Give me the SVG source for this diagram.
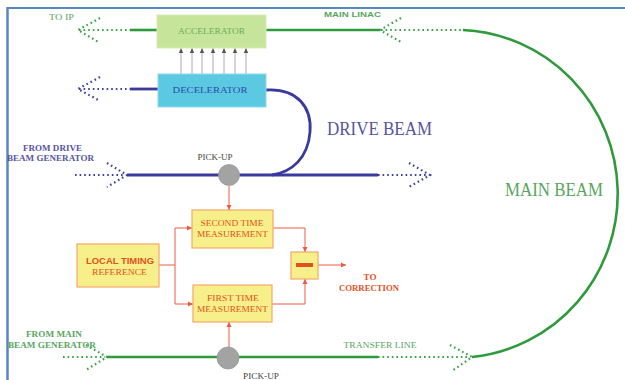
<svg xmlns="http://www.w3.org/2000/svg" width="625" height="380" viewBox="0 0 625 380">
<defs>
<style>
.gl{stroke:#2f9a3c;stroke-width:2.6;fill:none}
.gd{stroke:#3aa048;stroke-width:2.2;fill:none;stroke-dasharray:1.6 3}
.bl{stroke:#3a3a9e;stroke-width:2.8;fill:none}
.bd{stroke:#3f3fa2;stroke-width:2.2;fill:none;stroke-dasharray:1.6 3}
.rl{stroke:#ec5a44;stroke-width:1;fill:none}
.ga{stroke:#b0aaa8;stroke-width:1;fill:none}
.box{fill:#f7f08a;stroke:#f2a86a;stroke-width:1.2}
.serif{font-family:"Liberation Serif","DejaVu Serif",serif}
.sans{font-family:"Liberation Sans","DejaVu Sans",sans-serif}
.rt{fill:#e2501e;font-size:9px;text-anchor:middle}
.gt{fill:#5aa55e;text-anchor:middle}
.bt{fill:#55559e;text-anchor:middle}
</style>
<marker id="ra" markerWidth="6" markerHeight="6" refX="5" refY="3" orient="auto" markerUnits="userSpaceOnUse">
<path d="M0,0.5 L5,3 L0,5.5 Z" fill="#ec5a44"/>
</marker>
<marker id="ka" markerWidth="6" markerHeight="6" refX="5" refY="3" orient="auto" markerUnits="userSpaceOnUse">
<path d="M0,0.8 L5,3 L0,5.2 Z" fill="#555"/>
</marker>
</defs>
<rect x="0" y="0" width="625" height="380" fill="#ffffff"/>
<g id="frame">
<line x1="7" y1="8" x2="625" y2="8" stroke="#5b87c0" stroke-width="2"/>
<line x1="7.5" y1="7" x2="7.5" y2="380" stroke="#5b87c0" stroke-width="2.5"/>
</g>
<g id="connectors">
<line class="gl" x1="130" y1="30" x2="157" y2="30"/>
<line class="gd" x1="79" y1="30" x2="130" y2="30"/>
<path class="gd" d="M100,18 L78,30 L100,43"/>
<line class="gl" x1="266" y1="30" x2="380" y2="30"/>
<line class="gd" x1="381" y1="30" x2="463" y2="30"/>
<path class="gd" d="M401,18 L380,30 L401,42"/>
<path class="gl" d="M463,30 A162 164 0 0 1 472,357"/>
<line class="bl" x1="130" y1="89" x2="158" y2="89"/>
<line class="bd" x1="79" y1="89" x2="130" y2="89"/>
<path class="bd" d="M100,77 L78,89 L100,101"/>
<path class="bl" d="M266,90 C298,88 312,108 310,132 C308,158 292,172 272,175"/>
<line class="bd" x1="75" y1="175" x2="125" y2="175"/>
<path class="bd" d="M107,163 L127,175 L107,187"/>
<line class="bl" x1="127" y1="175" x2="378" y2="175"/>
<line class="bd" x1="378" y1="175" x2="428" y2="175"/>
<path class="bd" d="M409,163 L430,175 L409,187"/>
<line class="gd" x1="63" y1="357" x2="105" y2="357"/>
<path class="gd" d="M86,345 L107,357 L86,370"/>
<line class="gl" x1="107" y1="357" x2="378" y2="357"/>
<line class="gd" x1="378" y1="357" x2="470" y2="357"/>
<path class="gd" d="M450,345 L472,357 L452,371"/>
<line class="ga" x1="181" y1="74" x2="181" y2="48" marker-end="url(#ka)"/>
<line class="ga" x1="192" y1="74" x2="192" y2="48" marker-end="url(#ka)"/>
<line class="ga" x1="202" y1="74" x2="202" y2="48" marker-end="url(#ka)"/>
<line class="ga" x1="213" y1="74" x2="213" y2="48" marker-end="url(#ka)"/>
<line class="ga" x1="224" y1="74" x2="224" y2="48" marker-end="url(#ka)"/>
<line class="ga" x1="235" y1="74" x2="235" y2="48" marker-end="url(#ka)"/>
<line class="ga" x1="246" y1="74" x2="246" y2="48" marker-end="url(#ka)"/>
<line class="rl" x1="229" y1="186" x2="229" y2="210" marker-end="url(#ra)"/>
<line class="rl" x1="229" y1="347" x2="229" y2="322" marker-end="url(#ra)"/>
<path class="rl" d="M159,265 L175,265"/>
<path class="rl" d="M175,228 L175,304"/>
<line class="rl" x1="175" y1="228" x2="192" y2="228" marker-end="url(#ra)"/>
<line class="rl" x1="175" y1="304" x2="193" y2="304" marker-end="url(#ra)"/>
<path class="rl" d="M273,228 L305,228 L305,252" marker-end="url(#ra)"/>
<path class="rl" d="M272,304 L305,304 L305,279" marker-end="url(#ra)"/>
<line class="rl" x1="318" y1="265" x2="346" y2="265" marker-end="url(#ra)"/>
</g>
<g id="accelerator">
<rect x="157" y="15" width="109" height="33" fill="#c6e59a" stroke="#d6ecb4" stroke-width="1"/>
<text class="serif" x="211.5" y="34" font-size="9" fill="#6aae5a" text-anchor="middle" textLength="67" lengthAdjust="spacingAndGlyphs">ACCELERATOR</text>
</g>
<g id="decelerator">
<rect x="158" y="74" width="108" height="33" fill="#5cc9e2" stroke="#8fdaea" stroke-width="1"/>
<text class="serif" x="210" y="93" font-size="9" fill="#2a4aa8" text-anchor="middle" textLength="75" lengthAdjust="spacingAndGlyphs">DECELERATOR</text>
</g>
<g id="pickup-top">
<circle cx="229" cy="175" r="10.5" fill="#a3a3a3" stroke="#999" stroke-width="0.8"/>
<text class="serif" x="215" y="160" font-size="8.5" fill="#444" text-anchor="middle" textLength="35" lengthAdjust="spacingAndGlyphs">PICK-UP</text>
</g>
<g id="pickup-bottom">
<circle cx="228" cy="358" r="11" fill="#a3a3a3" stroke="#999" stroke-width="0.8"/>
<text class="serif" x="261" y="379" font-size="8.5" fill="#444" text-anchor="middle" textLength="36" lengthAdjust="spacingAndGlyphs">PICK-UP</text>
</g>
<g id="second-time">
<rect class="box" x="192" y="210" width="81" height="38"/>
<text class="serif rt" x="232" y="226" textLength="63" lengthAdjust="spacingAndGlyphs">SECOND TIME</text>
<text class="serif rt" x="232.5" y="237" textLength="71" lengthAdjust="spacingAndGlyphs">MEASUREMENT</text>
</g>
<g id="first-time">
<rect class="box" x="193" y="285" width="79" height="37"/>
<text class="serif rt" x="233" y="301" textLength="52" lengthAdjust="spacingAndGlyphs">FIRST TIME</text>
<text class="serif rt" x="232.5" y="312" textLength="71" lengthAdjust="spacingAndGlyphs">MEASUREMENT</text>
</g>
<g id="local-timing">
<rect class="box" x="77" y="244" width="82" height="43"/>
<text class="sans rt" x="120" y="264" font-weight="bold" textLength="68" lengthAdjust="spacingAndGlyphs">LOCAL TIMING</text>
<text class="serif rt" x="119.5" y="275" textLength="55" lengthAdjust="spacingAndGlyphs">REFERENCE</text>
</g>
<g id="subtract">
<rect class="box" x="291" y="252" width="27" height="27"/>
<rect x="296" y="263" width="17" height="4" fill="#e2501e"/>
</g>
<g id="labels">
<text class="serif gt" x="61.5" y="20" font-size="8" textLength="25" lengthAdjust="spacingAndGlyphs">TO IP</text>
<text class="sans gt" x="352.5" y="17" font-size="7.5" font-weight="bold" textLength="57" lengthAdjust="spacingAndGlyphs">MAIN LINAC</text>
<text class="serif bt" x="52.5" y="151" font-size="8.5" font-weight="bold" textLength="59" lengthAdjust="spacingAndGlyphs">FROM DRIVE</text>
<text class="serif bt" x="50.5" y="161" font-size="8.5" font-weight="bold" textLength="87" lengthAdjust="spacingAndGlyphs">BEAM GENERATOR</text>
<text class="serif bt" x="379.5" y="135" font-size="18" textLength="105" lengthAdjust="spacingAndGlyphs">DRIVE BEAM</text>
<text class="serif gt" x="554" y="196" font-size="18" fill="#3e9a4e" textLength="98" lengthAdjust="spacingAndGlyphs">MAIN BEAM</text>
<text class="serif gt" x="54" y="337" font-size="8.5" font-weight="bold" textLength="56" lengthAdjust="spacingAndGlyphs">FROM MAIN</text>
<text class="serif gt" x="52" y="348" font-size="8.5" font-weight="bold" textLength="88" lengthAdjust="spacingAndGlyphs">BEAM GENERATOR</text>
<text class="serif gt" x="380" y="348" font-size="8.5" textLength="73" lengthAdjust="spacingAndGlyphs">TRANSFER LINE</text>
<text class="serif rt" x="370" y="280" font-weight="bold" textLength="13" lengthAdjust="spacingAndGlyphs">TO</text>
<text class="serif rt" x="369" y="291" font-weight="bold" textLength="60" lengthAdjust="spacingAndGlyphs">CORRECTION</text>
</g>
</svg>
